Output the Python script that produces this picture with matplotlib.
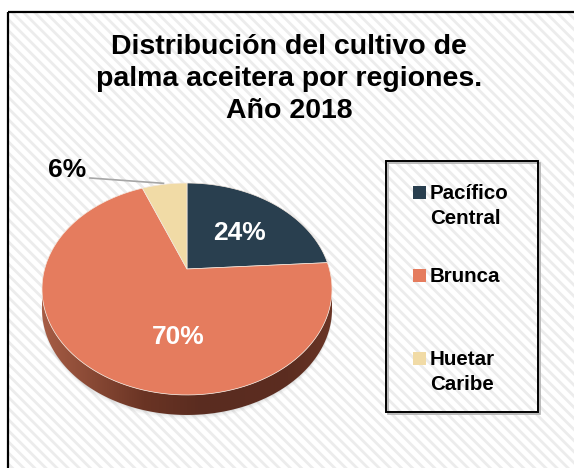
import numpy as np
import matplotlib
matplotlib.use('Agg')
import matplotlib.pyplot as plt
from matplotlib.patches import Polygon, Rectangle
from matplotlib.colors import LinearSegmentedColormap

regiones = ['Pacífico Central', 'Brunca', 'Huetar Caribe']
porcentajes = [24, 70, 6]
colores = ['#293f4f', '#e57c5e', '#f1dba6']
titulo = ['Distribución del cultivo de', 'palma aceitera por regiones.', 'Año 2018']

plt.rcParams['font.family'] = ['Liberation Sans', 'DejaVu Sans']
plt.rcParams['hatch.linewidth'] = 2.0

W, H = 574, 468
fig = plt.figure(figsize=(W / 100, H / 100), dpi=100)
ax = fig.add_axes([0, 0, 1, 1])
ax.set_xlim(0, W)
ax.set_ylim(H, 0)
ax.axis('off')

# background: hatched chart area with black frame
ax.add_patch(Rectangle((8, 12), 700, 600, facecolor='white', edgecolor='#ececec',
                       hatch='\\\\\\', linewidth=0, zorder=0))
ax.add_patch(Rectangle((8, 12), 700, 600, fill=False, edgecolor='black',
                       linewidth=1.6, zorder=1))

# title
for i, line in enumerate(titulo):
    ax.text(289, 54 + 32 * i, line, ha='center', va='baseline', fontsize=20.5,
            fontweight='bold', color='black', zorder=5)

# perspective pie
cx, cy = 187, 269
A, B, k = 142.4, 102.2, 0.1887
depth = 20


def proj(phi, r=1.0):
    u = r * np.sin(phi)
    v = r * np.cos(phi)
    w = 1 + k * v
    return cx + A * u / w, cy - B * v / w


# soft shadow below
phi_s = np.linspace(0, 2 * np.pi, 200)
sx, sy = proj(phi_s)
for off, al in [(depth + 4, 0.05), (depth + 2.5, 0.07), (depth + 1, 0.1)]:
    ax.add_patch(Polygon(np.column_stack([sx, sy + off]), closed=True,
                         facecolor='#808080', edgecolor='none', alpha=al, zorder=2))

# side of the pie (front part)
a0 = np.arccos(-k)
phi_f = np.linspace(a0, 2 * np.pi - a0, 150)
fx, fy = proj(phi_f)
side_pts = np.vstack([np.column_stack([fx, fy]), np.column_stack([fx[::-1], fy[::-1] + depth])])
side = Polygon(side_pts, closed=True, facecolor='none', edgecolor='none', zorder=3)
ax.add_patch(side)
cmap = LinearSegmentedColormap.from_list('lado', [(0, '#a65d45'), (0.35, '#6a3424'),
                                                  (0.55, '#5a2c20'), (0.85, '#5c2d20'),
                                                  (1, '#6a3526')])
grad = np.linspace(0, 1, 256).reshape(1, -1)
im = ax.imshow(grad, cmap=cmap, extent=(fx.min(), fx.max(), fy.max() + depth, fy.min()),
               aspect='auto', zorder=3, interpolation='bilinear')
im.set_clip_path(side)

# top face wedges
fr = np.array(porcentajes) / sum(porcentajes)
starts = np.concatenate([[0], np.cumsum(fr)[:-1]]) * 2 * np.pi
ends = np.cumsum(fr) * 2 * np.pi
for s, e, c in zip(starts, ends, colores):
    ph = np.linspace(s, e, 120)
    px, py = proj(ph)
    pts = np.vstack([[cx, cy], np.column_stack([px, py])])
    ax.add_patch(Polygon(pts, closed=True, facecolor=c, edgecolor='#f3e9e0',
                         linewidth=0.5, zorder=4))

# data labels
lab_pos = [(239, 233), (178, 337), (67, 170)]
lab_col = ['white', 'white', 'black']
for p, (lx, ly), lc in zip(porcentajes, lab_pos, lab_col):
    ax.text(lx, ly, f'{p}%', ha='center', va='center', fontsize=19,
            fontweight='bold', color=lc, zorder=6)

# leader line for the small slice
mid = (starts[2] + ends[2]) / 2
ex, ey = proj(mid)
ax.plot([90, ex - 1], [178, ey - 1], color='#a6a6a6', linewidth=1.2, zorder=5)

# legend
ax.add_patch(Rectangle((387.5, 162.5), 152, 251, fill=False, edgecolor='#b0b0b0',
                       linewidth=1.2, zorder=4))
ax.add_patch(Rectangle((386, 161), 152, 251, fill=False, edgecolor='black',
                       linewidth=1.4, zorder=5))
leg_y = [192, 275, 358]
for name, c, y0 in zip(regiones, colores, leg_y):
    ax.add_patch(Rectangle((413, y0 - 6.5), 13, 13, facecolor=c, edgecolor='none', zorder=5))
    words = name.split(' ')
    for j, w in enumerate(words):
        ax.text(430, y0 + 7 + 25 * j, w, ha='left', va='baseline', fontsize=14.8,
                fontweight='bold', color='black', zorder=6)

fig.savefig('out.png', dpi=100)
